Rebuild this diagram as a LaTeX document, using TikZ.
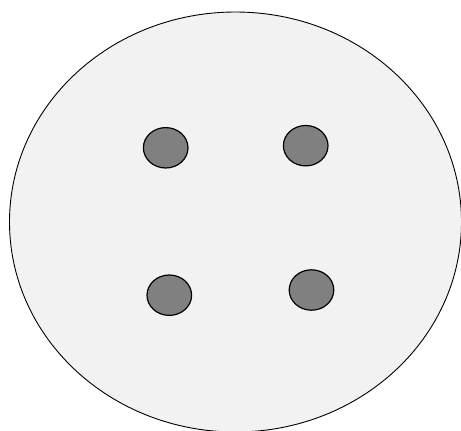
\documentclass[tikz,border=0pt]{standalone}
\usepackage{xcolor}
\usepackage{tikz}

\tikzset{
  cellbody/.style={draw=black, fill=gray!10, line width=0.9pt},
  granule/.style={draw=black, fill=gray, line width=1.2pt}
}

\begin{document}
\begin{tikzpicture}[x=1pt,y=-1pt]

  % frame of the picture
  \useasboundingbox (0,0) rectangle (461,431);
  \clip (0,0) rectangle (461,431);

  % outer body
  \draw[cellbody] (235.5,222) ellipse (226 and 210);

  % four small granules
  \foreach \cx/\cy in {165.7/147.8, 305.7/145.7, 169.3/295.2, 311.5/290}
    \draw[granule] (\cx,\cy) ellipse (22.3 and 20.2);

\end{tikzpicture}
\end{document}
